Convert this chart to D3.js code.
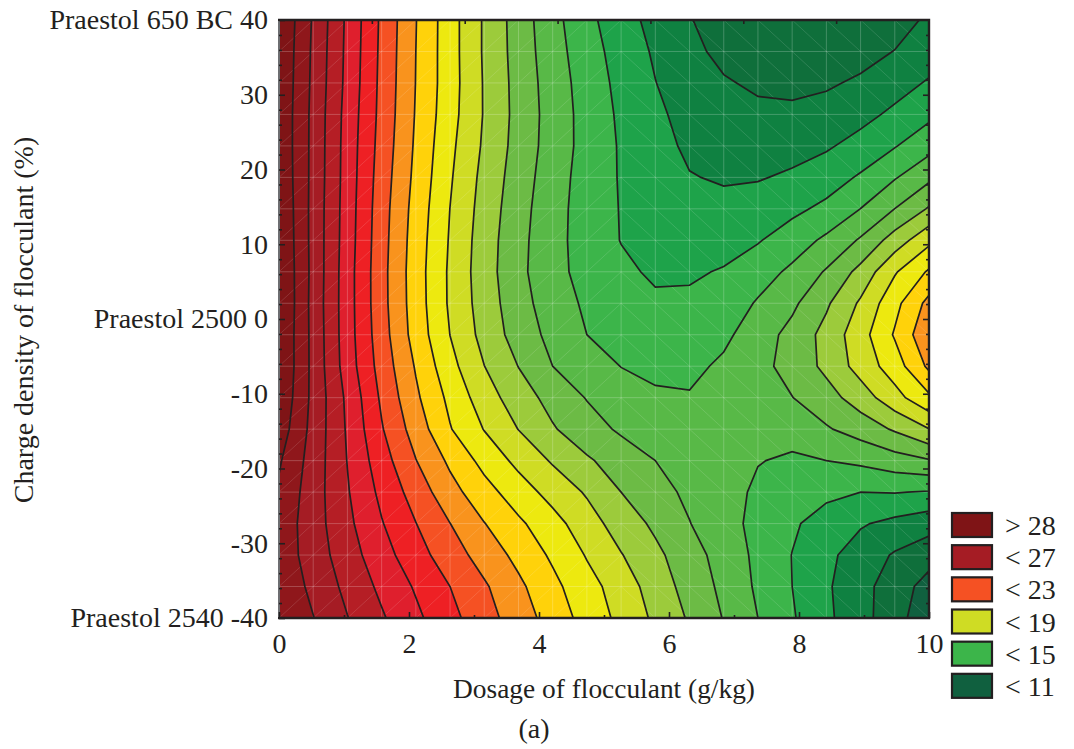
<!DOCTYPE html>
<html>
<head>
<meta charset="utf-8">
<script src="https://d3js.org/d3.v7.min.js"></script>
<style>
  html, body { margin: 0; padding: 0; background: #fff; }
  text { font-family: "Liberation Serif", serif; fill: #231f20; }
</style>
</head>
<body>
<div class="root"></div>
<script>
var width = 1074,
    height = 749,
    plot = { left: 279, right: 929, top: 20, bottom: 618 };

// residual, top row is charge density 40, left column is dosage 0
var residual = [
  [28.96,26.89,24.8,22.82,21.03,19.42,17.88,16.54,15.33,14.27,13.41,12.68,12.07,11.4,11.2,11.1,11.05,11.1,11.5,12.2],
  [28.9,26.83,24.76,22.78,21.0,19.42,17.88,16.58,15.42,14.43,13.59,12.87,12.25,11.75,11.55,11.4,11.4,11.6,12.03,12.5],
  [28.86,26.79,24.72,22.74,20.98,19.43,17.92,16.64,15.52,14.56,13.72,13.02,12.45,12.09,11.85,11.75,11.86,12.17,12.6,13.1],
  [28.82,26.74,24.63,22.7,20.93,19.37,17.93,16.67,15.58,14.63,13.83,13.2,12.65,12.36,12.2,12.2,12.39,12.7,13.2,13.77],
  [28.82,26.73,24.58,22.62,20.85,19.23,17.85,16.62,15.56,14.65,13.9,13.36,12.81,12.63,12.6,12.65,12.88,13.34,13.94,14.66],
  [28.86,26.72,24.56,22.52,20.75,19.11,17.7,16.51,15.45,14.59,13.92,13.47,13.05,12.9,12.93,13.15,13.53,14.12,14.92,15.78],
  [28.95,26.69,24.52,22.43,20.62,18.99,17.59,16.39,15.36,14.57,13.95,13.55,13.32,13.26,13.45,13.77,14.23,15.01,16.01,17.1],
  [29.0,26.69,24.49,22.38,20.53,18.91,17.49,16.3,15.32,14.58,13.97,13.7,13.6,13.66,13.93,14.5,15.2,16.12,17.46,18.75],
  [29.05,26.71,24.43,22.33,20.47,18.84,17.45,16.26,15.3,14.67,14.2,13.85,13.88,14.07,14.55,15.2,16.1,17.31,18.9,20.13],
  [29.1,26.67,24.43,22.34,20.5,18.85,17.53,16.39,15.48,14.84,14.45,14.16,14.16,14.4,15.1,15.8,16.85,18.15,19.7,21.3],
  [29.0,26.71,24.44,22.43,20.59,18.99,17.66,16.56,15.71,15.0,14.75,14.5,14.45,14.78,15.54,16.3,17.33,18.6,20.1,21.8],
  [29.0,26.72,24.51,22.59,20.91,19.32,18.01,16.98,16.0,15.5,14.98,14.78,14.75,15.18,15.7,16.35,17.24,18.4,19.5,21.2],
  [28.84,26.73,24.79,22.83,21.18,19.75,18.47,17.47,16.66,15.95,15.5,15.14,15.08,15.3,15.5,15.98,16.6,17.49,18.64,19.8],
  [28.57,26.66,24.88,23.08,21.56,20.06,18.96,17.98,17.09,16.42,15.85,15.5,15.3,15.2,15.2,15.25,15.9,16.43,17.12,17.98],
  [28.12,26.56,24.97,23.44,22.03,20.81,19.68,18.73,17.89,17.13,16.55,16.0,15.55,15.1,15.03,14.9,15.0,15.2,15.57,15.92],
  [27.84,26.47,25.08,23.76,22.57,21.36,20.38,19.48,18.64,17.89,17.0,16.37,15.79,15.29,14.87,14.58,14.22,14.0,14.04,13.93],
  [27.63,26.45,25.23,24.06,23.02,22.01,21.03,20.18,19.36,18.44,17.54,16.81,16.03,15.34,14.74,14.14,13.58,13.1,12.73,12.39],
  [27.61,26.53,25.45,24.4,23.4,22.47,21.59,20.72,19.83,18.93,18.05,17.23,16.42,15.59,14.78,13.98,13.24,12.53,11.9,11.4],
  [27.78,26.75,25.74,24.78,23.89,23.0,22.13,21.21,20.27,19.34,18.58,17.51,16.64,15.76,14.84,14.0,13.14,12.31,11.53,10.6],
  [27.93,27.03,26.03,25.12,24.21,23.3,22.39,21.51,20.57,19.62,18.74,17.81,16.88,15.95,15.0,14.1,13.21,12.32,11.46,10.2]
];

var levels = [11,12,13,14,15,16,17,18,19,20,21,22,23,24,25,26,27,28];
var bandColors = ["#10603f","#0f6f3b","#0f8141","#1ea34a","#3cb54a","#58b947","#6cbb45","#9ccb3b","#cfdc24","#ede90f","#ffd20a","#f9931d","#f55123","#ee2024","#df1f2d","#b51e25","#a51c24","#8f171b","#7f1416"];

var xTicks = [0,2,4,6,8,10];
var xMinorTicks = [1,3,5,7,9];
var xTopTicks = [10/7,20/7,30/7,40/7,50/7,60/7];
var yTicks = [40,30,20,10,0,-10,-20,-30,-40];
var yMinorTicks = [38,36,34,32,28,26,24,22,18,16,14,12,8,6,4,2,-2,-4,-6,-8,-12,-14,-16,-18,-22,-24,-26,-28,-32,-34,-36,-38];
var yTickLabels = ["Praestol 650 BC 40","30","20","10","Praestol 2500 0","-10","-20","-30","Praestol 2540 -40"];
var legendLabels = ["> 28","< 27","< 23","< 19","< 15","< 11"];
var legendColors = ["#7f1416","#a51c24","#f55123","#cfdc24","#3cb54a","#10603f"];

var nx = residual[0].length,
    ny = residual.length;

var x = d3.scaleLinear().domain([0,10]).range([plot.left, plot.right]);
var y = d3.scaleLinear().domain([-40,40]).range([plot.bottom, plot.top]);

// grid index to page position, d3.contours puts sample i at i + 0.5
var gridX = d3.scaleLinear().domain([0.5, nx - 0.5]).range([plot.left, plot.right]);
var gridY = d3.scaleLinear().domain([0.5, ny - 0.5]).range([plot.top, plot.bottom]);

var svg = d3.select(".root")
  .append("svg")
  .attr("width", width)
  .attr("height", height)
  .style("display", "block");

svg.append("clipPath").attr("id", "plot-clip")
  .append("rect")
  .attr("x", plot.left)
  .attr("y", plot.top)
  .attr("width", plot.right - plot.left)
  .attr("height", plot.bottom - plot.top);

var map = svg.append("g").attr("clip-path", "url(#plot-clip)");

var contours = d3.contours()
  .size([nx, ny])
  .smooth(true)
  .thresholds(levels)(residual.flat());

var path = d3.geoPath(d3.geoTransform({
  point: function(px, py) { this.stream.point(gridX(px), gridY(py)); }
}));

map.append("rect")
  .attr("x", plot.left)
  .attr("y", plot.top)
  .attr("width", plot.right - plot.left)
  .attr("height", plot.bottom - plot.top)
  .attr("fill", bandColors[0]);

map.selectAll("path.band")
  .data(contours)
  .enter().append("path")
  .attr("class", "band")
  .attr("d", path)
  .attr("fill", (d, i) => bandColors[i + 1]);

// the faint white mesh of the surface
var mesh = map.append("g").attr("stroke", "#fff").attr("fill", "none");
d3.range(1, nx - 1).forEach(i => {
  mesh.append("line")
    .attr("x1", gridX(i + 0.5)).attr("x2", gridX(i + 0.5))
    .attr("y1", plot.top).attr("y2", plot.bottom)
    .attr("stroke-opacity", 0.22).attr("stroke-width", 1);
});
d3.range(1, ny - 1).forEach(j => {
  mesh.append("line")
    .attr("y1", gridY(j + 0.5)).attr("y2", gridY(j + 0.5))
    .attr("x1", plot.left).attr("x2", plot.right)
    .attr("stroke-opacity", 0.22).attr("stroke-width", 1);
});
d3.range(0, nx - 1).forEach(i => {
  d3.range(0, ny - 1).forEach(j => {
    var flip = i < 10;
    mesh.append("line")
      .attr("x1", gridX(i + 0.5)).attr("x2", gridX(i + 1.5))
      .attr("y1", gridY(j + (flip ? 1.5 : 0.5))).attr("y2", gridY(j + (flip ? 0.5 : 1.5)))
      .attr("stroke-opacity", 0.22).attr("stroke-width", 0.6);
  });
});

map.selectAll("path.line")
  .data(contours)
  .enter().append("path")
  .attr("class", "line")
  .attr("d", path)
  .attr("fill", "none")
  .attr("stroke", "#231f20")
  .attr("stroke-width", 1.7);

// frame, the left side is lighter in the original
svg.append("path")
  .attr("d", `M${plot.left - 1},${plot.top}H${plot.right}V${plot.bottom}H${plot.left - 1}`)
  .attr("fill", "none")
  .attr("stroke", "#231f20")
  .attr("stroke-width", 2.4);
svg.append("line")
  .attr("x1", plot.left).attr("x2", plot.left)
  .attr("y1", plot.top + 1).attr("y2", plot.bottom - 1)
  .attr("stroke", "#6d6e71")
  .attr("stroke-width", 2);

function styleAxis(g) {
  g.select(".domain").remove();
  g.selectAll("line").attr("stroke", "#231f20").attr("stroke-width", 1.6);
  g.selectAll("text").style("font-size", "28px").attr("fill", "#231f20");
}

svg.append("g")
  .attr("transform", `translate(0,${plot.bottom})`)
  .call(d3.axisBottom(x).tickValues(xTicks).tickSize(-6).tickPadding(15))
  .call(styleAxis);
svg.append("g")
  .attr("transform", `translate(0,${plot.bottom})`)
  .call(d3.axisBottom(x).tickValues(xMinorTicks).tickSize(-3).tickFormat(""))
  .call(styleAxis);
svg.append("g")
  .attr("transform", `translate(0,${plot.top})`)
  .call(d3.axisTop(x).tickValues(xTopTicks).tickSize(-4).tickFormat(""))
  .call(styleAxis);

svg.append("g")
  .attr("transform", `translate(${plot.left},0)`)
  .call(d3.axisLeft(y).tickValues(yTicks).tickSize(-6).tickPadding(11)
    .tickFormat((d, i) => yTickLabels[i]))
  .call(styleAxis);
svg.append("g")
  .attr("transform", `translate(${plot.left},0)`)
  .call(d3.axisLeft(y).tickValues(yMinorTicks).tickSize(-3).tickFormat(""))
  .call(styleAxis);
svg.append("g")
  .attr("transform", `translate(${plot.right},0)`)
  .call(d3.axisRight(y).tickValues(yTicks.slice(1, -1)).tickSize(-6).tickFormat(""))
  .call(styleAxis);
svg.append("g")
  .attr("transform", `translate(${plot.right},0)`)
  .call(d3.axisRight(y).tickValues(yMinorTicks).tickSize(-3).tickFormat(""))
  .call(styleAxis);

svg.append("text")
  .attr("x", 604)
  .attr("y", 698)
  .attr("text-anchor", "middle")
  .style("font-size", "27.4px")
  .text("Dosage of flocculant (g/kg)");

svg.append("text")
  .attr("x", 534)
  .attr("y", 738)
  .attr("text-anchor", "middle")
  .style("font-size", "28px")
  .text("(a)");

svg.append("text")
  .attr("transform", "translate(33,320) rotate(-90)")
  .attr("text-anchor", "middle")
  .style("font-size", "28px")
  .text("Charge density of flocculant (%)");

var legend = svg.append("g");
var legendY = d3.scaleBand().domain(legendLabels).range([513, 706]).paddingInner(0);

legend.selectAll("rect")
  .data(legendLabels)
  .enter().append("rect")
  .attr("x", 952)
  .attr("y", d => legendY(d))
  .attr("width", 40)
  .attr("height", 24)
  .attr("fill", (d, i) => legendColors[i])
  .attr("stroke", "#231f20")
  .attr("stroke-width", 2.2);

legend.selectAll("text")
  .data(legendLabels)
  .enter().append("text")
  .attr("x", 1005)
  .attr("y", d => legendY(d) + 22)
  .style("font-size", "28px")
  .text(d => d);
</script>
</body>
</html>
